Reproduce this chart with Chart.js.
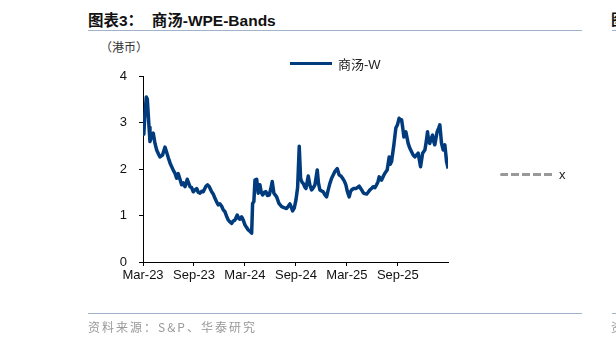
<!DOCTYPE html>
<html>
<head>
<meta charset="utf-8">
<script src="https://cdn.jsdelivr.net/npm/chart.js@4.4.1/dist/chart.umd.min.js"></script>
<style>
    body { margin: 0; width: 616px; height: 344px; overflow: hidden; background: #fff; font-family: "Liberation Sans", Arial, sans-serif; }
    .wrap { position: relative; width: 616px; height: 344px; }
    canvas { position: absolute; left: 0; top: 0; }
    .title { position: absolute; left: 88px; top: 8px; font-size: 15.5px; font-weight: bold; color: #111; font-family: "Liberation Sans", "Noto Sans CJK SC", sans-serif; white-space: nowrap; }
    .title2 { position: absolute; left: 611px; top: 8px; font-size: 15px; font-weight: bold; color: #111; font-family: "Noto Sans CJK SC", sans-serif; }
    .rule { position: absolute; height: 1px; background: #9fb3cb; }
    .unit { position: absolute; left: 100px; top: 38px; font-size: 12px; color: #333; font-family: "Noto Sans CJK SC", sans-serif; }
    .source { position: absolute; left: 88px; top: 318px; font-size: 12px; color: #999; font-family: "Noto Sans CJK SC", "Liberation Sans", sans-serif; letter-spacing: 2px; }
    .source2 { position: absolute; left: 611px; top: 318px; font-size: 12px; color: #999; font-family: "Noto Sans CJK SC", sans-serif; }
    .legend { position: absolute; display: flex; align-items: center; font-size: 13px; color: #222; font-family: "Liberation Sans", "Noto Sans CJK SC", sans-serif; white-space: nowrap; }
    .legend .solid { width: 42px; height: 3px; background: #003b7d; margin-right: 6px; }
    .legend .dash { width: 53px; height: 3px; margin-right: 6px; background: repeating-linear-gradient(90deg, #999 0 8px, transparent 8px 11px); border-radius: 2px; }
</style>
</head>
<body>
<div class="wrap">
    <div class="title">图表3：&nbsp;&nbsp;商汤-WPE-Bands</div>
    <div class="title2">图</div>
    <div class="rule" style="left:88px; top:30px; width:494px;"></div>
    <div class="rule" style="left:612px; top:30px; width:4px;"></div>
    <div class="unit">（港币）</div>
    <canvas id="chart" width="616" height="344"></canvas>
    <div class="legend" style="left:290px; top:54px;"><span class="solid"></span><span>商汤-W</span></div>
    <div class="legend" style="left:500px; top:167px;"><span class="dash"></span><span>x</span></div>
    <div class="rule" style="left:88px; top:313px; width:494px;"></div>
    <div class="rule" style="left:612px; top:313px; width:4px;"></div>
    <div class="source">资料来源：S&amp;P、华泰研究</div>
    <div class="source2">资</div>
</div>
<script>
// months since Mar-23 for each reading
const months = [
    0, 0.1, 0.2, 0.39, 0.51, 0.71, 0.82, 1.0, 1.21, 1.41, 1.61, 1.8, 2.0, 2.3, 2.59, 2.8, 2.98, 3.2, 3.38, 3.6,
    3.76, 3.96, 4.15, 4.35, 4.55, 4.75, 4.94, 5.21, 5.53, 5.72, 5.92, 6.12, 6.32, 6.5, 6.71, 6.9, 7.09, 7.41,
    7.6, 7.8, 8.08, 8.3, 8.47, 8.65, 8.86, 9.05, 9.26, 9.45, 9.65, 9.85, 10.04, 10.25, 10.44, 10.62, 10.82,
    11.09, 11.25, 11.41, 11.61, 11.8, 12.0, 12.2, 12.39, 12.6, 12.79, 12.9, 13.05, 13.18, 13.38, 13.56,
    13.76, 13.92, 14.08, 14.3, 14.47, 14.65, 14.86, 15.05, 15.21, 15.41, 15.73, 16.0, 16.32, 16.6, 16.9,
    17.1, 17.29, 17.45, 17.61, 17.8, 18.0, 18.2, 18.39, 18.55, 18.7, 18.86, 19.02, 19.18, 19.45, 19.65,
    19.85, 20.05, 20.24, 20.51, 20.65, 20.82, 21.0, 21.21, 21.4, 21.61, 21.8, 22.0, 22.2, 22.39, 22.6,
    22.86, 23.09, 23.3, 23.49, 23.7, 23.88, 24.05, 24.27, 24.4, 24.55, 24.8, 25.06, 25.25, 25.45, 25.7,
    25.92, 26.1, 26.32, 26.5, 26.71, 26.9, 27.09, 27.3, 27.49, 27.65, 27.8, 28.08, 28.3, 28.47, 28.74,
    28.98, 29.1, 29.26, 29.53, 29.76, 29.95, 30.15, 30.3, 30.44, 30.6, 30.71, 30.94, 31.21, 31.4, 31.61,
    31.8, 32.0, 32.2, 32.39, 32.67, 32.91, 33.18, 33.35, 33.49, 33.62, 33.76, 33.9, 34.08, 34.2, 34.35,
    34.62, 34.8, 34.94, 35.14, 35.33, 35.53, 35.73, 35.92
];

// 商汤-W PE band line (HKD)
const values = [
    2.8, 2.75, 3.1, 3.55, 3.5, 2.9, 2.59, 2.7, 2.77, 2.55, 2.41, 2.33, 2.26, 2.3, 2.47, 2.35, 2.24, 2.12, 2.05, 1.96,
    1.91, 1.8, 1.9, 1.78, 1.66, 1.7, 1.62, 1.78, 1.62, 1.6, 1.51, 1.55, 1.58, 1.5, 1.48, 1.52, 1.51, 1.63,
    1.66, 1.62, 1.51, 1.45, 1.37, 1.3, 1.23, 1.25, 1.2, 1.12, 1.08, 0.98, 0.9, 0.86, 0.83, 0.88, 0.9,
    1.01, 0.94, 0.92, 0.97, 0.9, 0.8, 0.74, 0.69, 0.66, 0.62, 1.26, 1.3, 1.76, 1.78, 1.48,
    1.66, 1.5, 1.44, 1.5, 1.51, 1.43, 1.44, 1.58, 1.73, 1.48, 1.4, 1.26, 1.19, 1.17, 1.15,
    1.2, 1.25, 1.18, 1.1, 1.16, 1.33, 1.6, 2.49, 1.8, 1.72, 1.69, 1.62, 1.58, 1.85, 1.65,
    1.55, 1.6, 1.66, 1.98, 1.7, 1.55, 1.53, 1.51, 1.45, 1.4, 1.55, 1.69, 1.8, 1.87, 1.95,
    2.01, 1.87, 1.85, 1.8, 1.74, 1.66, 1.52, 1.4, 1.5, 1.55, 1.58, 1.58, 1.6, 1.63, 1.56,
    1.49, 1.47, 1.46, 1.5, 1.55, 1.58, 1.62, 1.6, 1.66, 1.72, 1.83, 1.76, 1.85, 1.91, 1.98,
    2.26, 2.1, 2.16, 2.52, 2.88, 2.95, 3.09, 3.06, 3.06, 2.85, 2.69, 2.8, 2.55, 2.45, 2.37,
    2.3, 2.26, 2.3, 2.34, 2.05, 2.34, 2.41, 2.6, 2.8, 2.6, 2.55, 2.65, 2.73, 2.6, 2.52,
    2.8, 2.88, 2.95, 2.55, 2.41, 2.52, 2.16, 2.01
];

const tickMonths = [0, 6, 12, 18, 24, 30];
const tickLabels = ['Mar-23', 'Sep-23', 'Mar-24', 'Sep-24', 'Mar-25', 'Sep-25'];
const yTicks = [0, 1, 2, 3, 4];

const ctx = document.getElementById('chart').getContext('2d');
new Chart(ctx, {
    type: 'line',
    data: {
        datasets: [{
            label: '商汤-W',
            data: months.map((m, i) => ({ x: m, y: values[i] })),
            borderColor: '#003b7d',
            borderWidth: 3.5,
            borderJoinStyle: 'round',
            pointRadius: 0,
            tension: 0,
            fill: false
        }, {
            label: 'x',
            data: [],
            borderColor: '#999',
            borderDash: [8, 3],
            borderWidth: 3,
            pointRadius: 0
        }]
    },
    options: {
        responsive: false,
        animation: false,
        layout: { padding: { left: 103, right: 168, top: 76, bottom: 52 } },
        plugins: {
            legend: { display: false },
            tooltip: { enabled: false }
        },
        scales: {
            x: {
                type: 'linear',
                min: 0,
                max: 35.9,
                afterBuildTicks: axis => { axis.ticks = tickMonths.map(v => ({ value: v })); },
                afterFit: scale => { scale.height = 30; },
                grid: { drawOnChartArea: false, drawTicks: true, tickLength: 4, tickColor: '#000' },
                border: { color: '#000', width: 1 },
                ticks: {
                    autoSkip: false,
                    maxRotation: 0,
                    padding: 2,
                    color: '#111',
                    font: { size: 13, family: 'Liberation Sans' },
                    callback: (v) => tickLabels[tickMonths.indexOf(v)]
                }
            },
            y: {
                min: 0,
                max: 4,
                afterBuildTicks: axis => { axis.ticks = yTicks.map(v => ({ value: v })); },
                afterFit: scale => { scale.width = 40; },
                grid: { drawOnChartArea: false, drawTicks: true, tickLength: 4, tickColor: '#000' },
                border: { color: '#000', width: 1 },
                ticks: {
                    padding: 12,
                    color: '#111',
                    font: { size: 13, family: 'Liberation Sans' }
                }
            }
        }
    }
});
</script>
</body>
</html>
